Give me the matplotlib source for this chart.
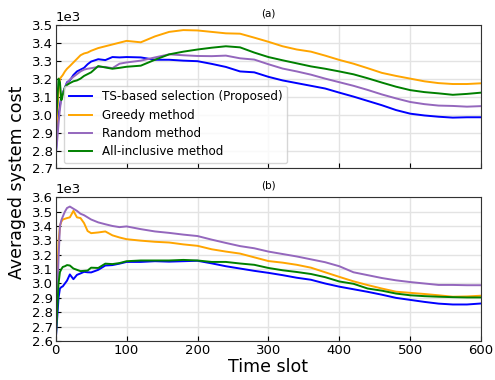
import matplotlib
matplotlib.use('Agg')
import matplotlib.pyplot as plt

# time slots where values were read
t = [0, 2, 4, 6, 8, 10, 13, 16, 20, 25, 30, 35, 40, 45, 50, 60, 70, 80, 90,
     100, 120, 140, 160, 180, 200, 220, 240, 260, 280, 300, 320, 340, 360, 380,
     400, 420, 440, 460, 480, 500, 520, 540, 560, 580, 600]

labels = ['TS-based selection (Proposed)', 'Greedy method', 'Random method',
          'All-inclusive method']
colors = ['blue', 'orange', '#9467bd', 'green']

# (a)
ts_a = [2760, 2900, 3000, 3050, 3100, 3120, 3150, 3180, 3190, 3220, 3240, 3250, 3260, 3280, 3295,
        3308, 3303, 3320, 3318, 3320, 3318, 3305, 3305, 3300, 3297, 3282, 3265, 3240, 3235, 3210,
        3190, 3175, 3160, 3145, 3122, 3100, 3076, 3052, 3025, 3005, 2995, 2988, 2983, 2985, 2985]
greedy_a = [2830, 3000, 3120, 3200, 3210, 3220, 3240, 3255, 3270, 3290, 3310, 3330, 3340, 3345, 3355,
            3370, 3380, 3390, 3400, 3410, 3402, 3435, 3460, 3470, 3468, 3460, 3452, 3450, 3428, 3405,
            3380, 3362, 3350, 3328, 3304, 3283, 3258, 3232, 3215, 3200, 3185, 3175, 3170, 3170, 3174]
random_a = [2780, 2850, 2950, 3030, 3090, 3120, 3150, 3175, 3195, 3210, 3225, 3240, 3250, 3255, 3258,
            3265, 3265, 3258, 3283, 3290, 3300, 3318, 3335, 3330, 3326, 3325, 3328, 3313, 3306, 3280,
            3256, 3240, 3222, 3200, 3180, 3160, 3137, 3112, 3090, 3070, 3058, 3050, 3048, 3044, 3047]
allin_a = [2960, 3050, 3200, 3180, 3080, 3110, 3150, 3165, 3175, 3185, 3190, 3200, 3215, 3225, 3235,
           3270, 3262, 3255, 3260, 3266, 3272, 3305, 3335, 3350, 3362, 3372, 3380, 3374, 3345, 3320,
           3302, 3285, 3268, 3255, 3240, 3224, 3202, 3178, 3155, 3136, 3125, 3118, 3110, 3115, 3122]

# (b)
ts_b = [2600, 2750, 2900, 2965, 2975, 2980, 3000, 3020, 3063, 3030, 3060, 3070, 3081, 3078, 3077,
        3095, 3125, 3128, 3138, 3150, 3150, 3155, 3152, 3155, 3158, 3140, 3120, 3104, 3088, 3074,
        3058, 3040, 3026, 3000, 2978, 2960, 2942, 2922, 2900, 2886, 2872, 2860, 2854, 2854, 2861]
greedy_b = [2650, 3000, 3290, 3400, 3430, 3445, 3450, 3455, 3460, 3505, 3460, 3455, 3420, 3365, 3350,
            3355, 3362, 3335, 3320, 3308, 3298, 3290, 3285, 3272, 3262, 3238, 3222, 3208, 3182, 3156,
            3145, 3130, 3110, 3078, 3046, 3015, 2989, 2965, 2943, 2935, 2927, 2918, 2908, 2910, 2915]
random_b = [2600, 2900, 3170, 3400, 3440, 3465, 3500, 3525, 3535, 3520, 3505, 3485, 3475, 3460, 3445,
            3425, 3412, 3400, 3392, 3397, 3378, 3362, 3352, 3340, 3330, 3305, 3282, 3260, 3245, 3222,
            3205, 3188, 3168, 3148, 3120, 3078, 3058, 3038, 3022, 3010, 3000, 2990, 2990, 2988, 2988]
allin_b = [2600, 2800, 3000, 3080, 3100, 3115, 3120, 3128, 3125, 3104, 3095, 3086, 3088, 3090, 3110,
           3108, 3138, 3135, 3142, 3155, 3160, 3160, 3160, 3164, 3160, 3150, 3150, 3139, 3130, 3108,
           3092, 3080, 3066, 3044, 3014, 2998, 2965, 2950, 2930, 2918, 2912, 2908, 2905, 2903, 2903]

fig = plt.figure(figsize=(4.95, 3.8), dpi=100)
ax1 = fig.add_axes([0.1125, 0.5566, 0.8595, 0.3784])
ax2 = fig.add_axes([0.1125, 0.1026, 0.8595, 0.3784])

for ax, series, lim, ttl in [(ax1, [ts_a, greedy_a, random_a, allin_a], (2700, 3500), '(a)'),
                             (ax2, [ts_b, greedy_b, random_b, allin_b], (2600, 3600), '(b)')]:
    for y, c, lab in zip(series, colors, labels):
        ax.plot(t, y, color=c, lw=1.4, label=lab)
    ax.set_xlim(0, 600)
    ax.set_ylim(*lim)
    ax.set_yticks(range(lim[0], lim[1] + 1, 100))
    ax.set_xticks([0, 100, 200, 300, 400, 500, 600])
    ax.ticklabel_format(axis='y', style='sci', scilimits=(3, 3))
    ax.yaxis.get_offset_text().set_fontsize(9.5)
    ax.tick_params(direction='in', labelsize=9.5, length=3.5, pad=2)
    ax.grid(True, color='#e3e3e3', lw=1.0)
    ax.set_axisbelow(True)
    ax.set_title(ttl, fontsize=7.5, pad=6)
    for s in ax.spines.values():
        s.set_color('#333333')

ax1.tick_params(labelbottom=False)
ax1.legend(loc='lower left', bbox_to_anchor=(0.005, -0.005), fontsize=8.6,
           handlelength=2.0, borderpad=0.4, labelspacing=0.45)

ax2.set_xlabel('Time slot', fontsize=12.5, labelpad=1)
fig.text(0.035, 0.52, 'Averaged system cost', rotation=90, fontsize=12.5,
         ha='center', va='center')

fig.savefig('out.png', dpi=100)
